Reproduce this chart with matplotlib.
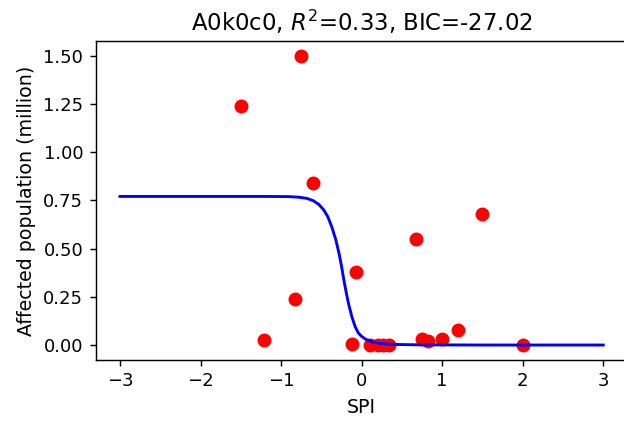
import matplotlib.pyplot as plt

# Observed points (SPI vs affected population, million)
spi = [-1.50, -1.21, -0.83, -0.75, -0.60, -0.12, -0.07, 0.11, 0.20, 0.27, 0.34,
       0.67, 0.75, 0.82, 1.00, 1.20, 1.49, 2.00]
affected = [1.24, 0.025, 0.24, 1.50, 0.84, 0.005, 0.38, 0.0, 0.0, 0.0, 0.0,
            0.55, 0.03, 0.02, 0.03, 0.08, 0.68, 0.0]

# Fitted curve
curve_x = [-3.0, -2.0, -1.2, -0.9, -0.78, -0.68, -0.60, -0.53, -0.47, -0.42, -0.37,
           -0.32, -0.28, -0.25, -0.22, -0.19, -0.16, -0.12, -0.08, -0.04, 0.0,
           0.05, 0.12, 0.21, 0.30, 0.42, 0.7, 1.5, 3.0]
curve_y = [0.77, 0.77, 0.77, 0.769, 0.766, 0.760, 0.748, 0.728, 0.700, 0.665, 0.612,
           0.545, 0.474, 0.410, 0.336, 0.270, 0.210, 0.145, 0.095, 0.062, 0.045,
           0.030, 0.018, 0.010, 0.006, 0.003, 0.001, 0.0, 0.0]

fig = plt.figure(figsize=(4.8, 3.24), dpi=130)
# right spine sits just past the image edge in the reference
ax = fig.add_axes([0.1535, 0.146, 0.852, 0.756])

ax.scatter(spi, affected, color='red', s=45, zorder=2)
ax.plot(curve_x, curve_y, color='blue', lw=1.6, zorder=3)

ax.set_title('A0k0c0, $R^2$=0.33, BIC=-27.02', fontsize=12.6)
ax.set_xlabel('SPI', fontsize=10.5)
ax.set_ylabel('Affected population (million)', fontsize=10.5)
ax.set_xticks([-3, -2, -1, 0, 1, 2, 3])
ax.set_yticks([0.0, 0.25, 0.5, 0.75, 1.0, 1.25, 1.5])
ax.tick_params(labelsize=10)

fig.savefig('out.png', dpi=130)
